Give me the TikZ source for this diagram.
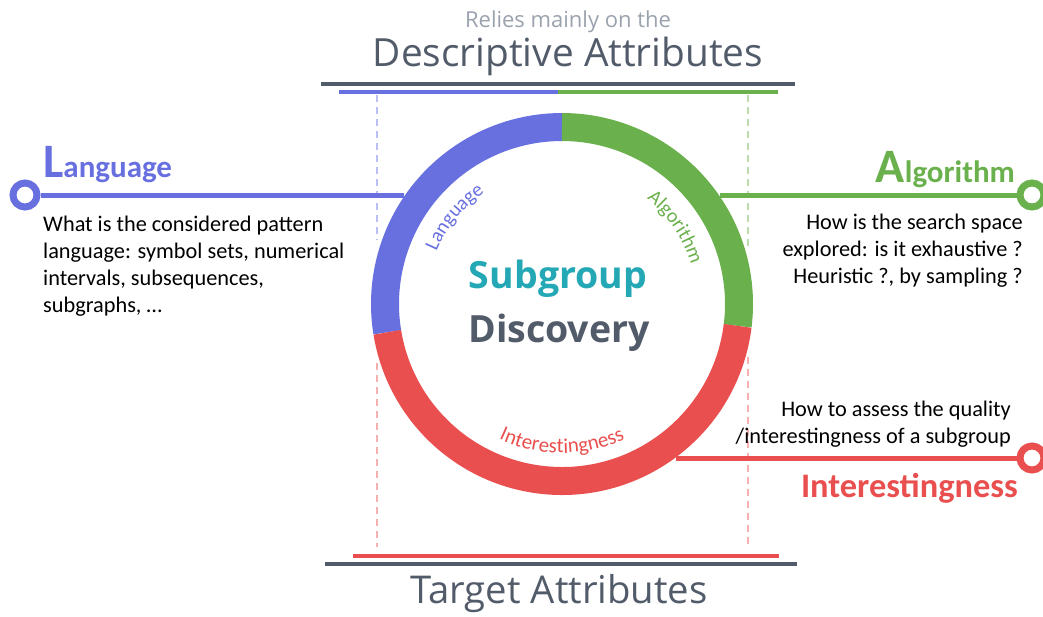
\documentclass[tikz,border=0pt]{standalone}
\usepackage{fontspec}
\setmainfont{Carlito}
\newfontfamily\osans{Open Sans}
\usetikzlibrary{decorations.text}
\definecolor{lblue}{HTML}{6870E0}
\definecolor{lgreen}{HTML}{6AB04C}
\definecolor{lred}{HTML}{EA4F4F}
\definecolor{teal}{HTML}{25A8B5}
\definecolor{slate}{HTML}{525B69}
\definecolor{lgrey}{HTML}{9AA2AE}
\tikzset{
  seg/.style={line width=28pt, line cap=butt},
  conn/.style={line width=5pt},
  endcirc/.style={circle, draw=#1, line width=7pt, fill=white, minimum size=24pt, inner sep=0pt},
  guide/.style={draw=#1, opacity=0.45, line width=1.3pt, dash pattern=on 7pt off 5pt},
  body/.style={font=\fontsize{22.3}{27}\selectfont, inner sep=0pt, anchor=base #1},
}
\newcommand{\biglab}[2]{{\fontsize{48}{48}\selectfont\bfseries #1}{\fontsize{31}{31}\selectfont\bfseries #2}}
\begin{document}
\begin{tikzpicture}[x=1pt,y=-1pt]
\useasboundingbox (0,0) rectangle (1043,616);
% ring centre
\coordinate (c) at (562,304);
% titles
\node[anchor=base, inner sep=0pt, text=lgrey, font=\osans\fontsize{22}{22}\selectfont] (relies) at (568,27) {Relies mainly on the};
\node[anchor=base, inner sep=0pt, text=slate, font=\osans\fontsize{38.8}{39}\selectfont] (desc) at (568,66) {Descriptive Attributes};
\node[anchor=base, inner sep=0pt, text=slate, font=\osans\fontsize{38.3}{39}\selectfont] (target) at (559,603) {Target Attributes};
% top lines
\coordinate (dtl) at (321,84); \coordinate (dtr) at (795,84);
\draw[slate, line width=4pt] (dtl) -- (dtr);
\coordinate (btl) at (339,92); \coordinate (btm) at (558,92); \coordinate (gtr) at (778,92);
\draw[lblue, line width=3.5pt] (btl) -- (btm);
\draw[lgreen, line width=3.5pt] (btm) -- (gtr);
% bottom lines
\coordinate (rbl) at (353,556); \coordinate (rbr) at (779,556);
\draw[lred, line width=3.5pt] (rbl) -- (rbr);
\coordinate (dbl) at (325,564); \coordinate (dbr) at (797,564);
\draw[slate, line width=4pt] (dbl) -- (dbr);
% dashed guides
\coordinate (g1a) at (377,95); \coordinate (g1b) at (377,240);
\coordinate (g2a) at (377,363); \coordinate (g2b) at (377,547);
\coordinate (g3a) at (748,95); \coordinate (g3b) at (748,250);
\coordinate (g4a) at (748,357); \coordinate (g4b) at (748,547);
\path[guide=lblue] (g1a) -- (g1b);
\path[guide=lred] (g2a) -- (g2b);
\path[guide=lgreen] (g3a) -- (g3b);
\path[guide=lred] (g4a) -- (g4b);
% connectors and end circles
\node[endcirc=lblue] (lc) at (25,195) {};
\node[endcirc=lgreen] (ac) at (1032,195) {};
\node[endcirc=lred] (ic) at (1032,458) {};
\coordinate (lr) at (404,195);
\coordinate (ar) at (720,195);
\coordinate (ir) at (676,458);
\draw[lblue, conn] (lc) -- (lr);
\draw[lgreen, conn] (ar) -- (ac);
\draw[lred, conn] (ir) -- (ic);
% ring (y axis points down: angles are negated)
\draw[seg, lblue] ([shift={(-90:177)}]c) arc[start angle=-90, end angle=-189.2, radius=177];
\draw[seg, lgreen] ([shift={(-90:177)}]c) arc[start angle=-90, end angle=7.1, radius=177];
\draw[seg, lred] ([shift={(7.1:177)}]c) arc[start angle=7.1, end angle=170.8, radius=177];
% ring labels
\path[decorate, decoration={text along path, text align=center,
  text={|\fontsize{20}{20}\selectfont\color{lblue}|Language}}]
  ([shift={(-176:136)}]c) arc[start angle=-176, end angle=-106, radius=136];
\path[decorate, decoration={text along path, text align=center,
  text={|\fontsize{20}{20}\selectfont\color{lgreen}|Algorithm}}]
  ([shift={(-70:135)}]c) arc[start angle=-70, end angle=2, radius=135];
\path[decorate, decoration={text along path, text align=center,
  text={|\fontsize{21}{21}\selectfont\color{lred}|Interestingness}}]
  ([shift={(-215:149)}]c) arc[start angle=-215, end angle=-325, radius=149];
% centre
\node[anchor=base, inner sep=0pt, text=teal, font=\osans\bfseries\fontsize{37.5}{38}\selectfont] (sub) at (558,288) {Subgroup};
\node[anchor=base, inner sep=0pt, text=slate, font=\osans\bfseries\fontsize{37.5}{38}\selectfont] (disc) at (559,342) {Discovery};
% labels
\node[anchor=base west, inner sep=0pt, text=lblue] (langlab) at (43,177) {\biglab{L}{anguage}};
\node[anchor=base east, inner sep=0pt, text=lgreen] (alglab) at (1015,182) {\biglab{A}{lgorithm}};
\node[anchor=base east, inner sep=0pt, text=lred, font=\fontsize{34.4}{34}\selectfont\bfseries] (intlab) at (1018,497) {Interestingness};
% body texts (anchor base = last line)
\node[body=west, align=left] (langtxt) at (43,312) {What is the considered pattern\\language: symbol sets, numerical\\intervals, subsequences,\\subgraphs, \ldots};
\node[body=east, align=right] (algtxt) at (1023,283) {How is the search space\\explored: is it exhaustive ?\\Heuristic ?, by sampling ?};
\node[body=east, align=right] (inttxt) at (1011,443) {How to assess the quality\\/interestingness of a subgroup};
\end{tikzpicture}
\end{document}
